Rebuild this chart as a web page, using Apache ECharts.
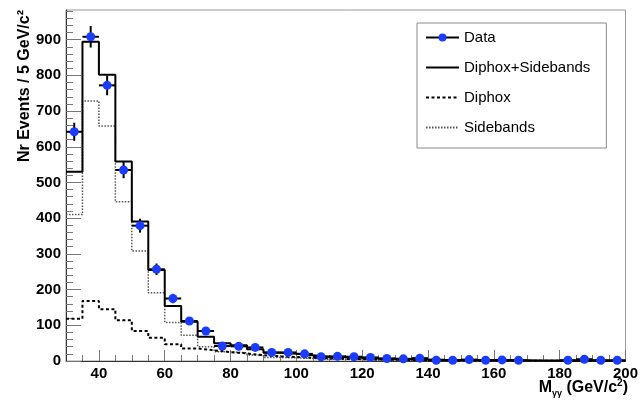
<!DOCTYPE html>
<html>
<head>
<meta charset="utf-8">
<script src="https://cdn.jsdelivr.net/npm/echarts@6/dist/echarts.min.js"></script>
<style>
html, body { margin: 0; padding: 0; background: #fff; }
#chart { width: 641px; height: 401px; }
</style>
</head>
<body>
<div id="chart"></div>
<script>
// Diphoton invariant mass spectrum, 5 GeV/c^2 bins from 30 to 200
const binEdges = [30, 35, 40, 45, 50, 55, 60, 65, 70, 75, 80, 85, 90, 95, 100, 105, 110, 115, 120,
  125, 130, 135, 140, 145, 150, 155, 160, 165, 170, 175, 180, 185, 190, 195, 200];
const binCenters = [32.5, 37.5, 42.5, 47.5, 52.5, 57.5, 62.5, 67.5, 72.5, 77.5, 82.5, 87.5, 92.5, 97.5,
  102.5, 107.5, 112.5, 117.5, 122.5, 127.5, 132.5, 137.5, 142.5, 147.5, 152.5, 157.5, 162.5, 167.5,
  172.5, 177.5, 182.5, 187.5, 192.5, 197.5];
const binHalfWidth = 2.5;

// Observed events per bin (empty bins are not drawn)
const dataCounts = [642, 908, 772, 535, 379, 257, 175, 112, 84, 42, 41, 38, 24, 24, 20, 12, 13, 12,
  10, 7, 6, 8, 2, 2, 4, 2, 3, 2, null, null, 2, 5, 2, 2];
// Statistical uncertainty on each observed count
const dataErrors = [25.3, 30.1, 27.8, 23.1, 19.5, 16.0, 13.2, 10.6, 9.2, 6.5, 6.4, 6.2, 4.9, 4.9, 4.5,
  3.5, 3.6, 3.5, 3.2, 2.6, 2.4, 2.8, 1.4, 1.4, 2.0, 1.4, 1.7, 1.4, null, null, 1.4, 2.2, 1.4, 1.4];

// Background templates
const totalBkg = [530, 894, 802, 559, 391, 255, 154, 110, 68, 50, 44, 33, 23, 20, 16, 12, 11, 9,
  7, 6.5, 5, 4.5, 3.5, 3, 2.5, 2.2, 2, 1.8, 1.6, 1.4, 1.2, 1.1, 1, 0.9];
const diphox = [118, 168, 145, 114, 84, 65, 47, 35, 30, 25, 21, 16, 13, 11, 9, 7, 6, 5,
  4, 3.5, 3, 2.5, 2, 1.8, 1.5, 1.3, 1.1, 1, 0.9, 0.8, 0.7, 0.6, 0.5, 0.5];
const sidebands = [410, 728, 658, 446, 308, 191, 108, 72, 40, 26, 23, 17, 10, 9, 7, 5, 5, 4,
  3, 3, 2, 2, 1.5, 1.2, 1, 0.9, 0.9, 0.8, 0.7, 0.6, 0.5, 0.5, 0.5, 0.4];

// Axis ticks
const xTickLabels = [40, 60, 80, 100, 120, 140, 160, 180, 200];
const xMinorTicks = [35, 45, 50, 55, 65, 70, 75, 85, 90, 95, 105, 110, 115, 125, 130, 135,
  145, 150, 155, 165, 170, 175, 185, 190, 195];
const yTickLabels = [0, 100, 200, 300, 400, 500, 600, 700, 800, 900];
const yMinorTicks = [20, 40, 60, 80, 120, 140, 160, 180, 220, 240, 260, 280, 320, 340, 360, 380,
  420, 440, 460, 480, 520, 540, 560, 580, 620, 640, 660, 680, 720, 740, 760, 780,
  820, 840, 860, 880, 920, 940, 960, 980];

const FONT = '"Liberation Sans", Arial, Helvetica, sans-serif';
const TICK = '#777';

// Histogram outline: one point per lower bin edge, plus the closing upper edge
function stepPoints(vals) {
  const pts = vals.map((v, i) => [binEdges[i], v]);
  pts.push([binEdges[vals.length], vals[vals.length - 1]]);
  return pts;
}

const chart = echarts.init(document.getElementById('chart'), null, { renderer: 'canvas' });

const xMain = {
  type: 'value', min: 30, max: 200, position: 'bottom',
  axisLine: { show: true, onZero: false, lineStyle: { color: '#333', width: 1 } },
  axisTick: { show: true, inside: true, length: 11, customValues: xTickLabels, lineStyle: { color: TICK } },
  axisLabel: { show: true, customValues: xTickLabels, margin: 5, fontSize: 15, fontWeight: 'bold', color: '#000', fontFamily: FONT },
  splitLine: { show: false }
};
const xMinor = {
  type: 'value', min: 30, max: 200, position: 'bottom',
  axisLine: { show: false },
  axisTick: { show: true, inside: true, length: 6, customValues: xMinorTicks, lineStyle: { color: TICK } },
  axisLabel: { show: false },
  splitLine: { show: false }
};
const yMain = {
  type: 'value', min: 0, max: 983, position: 'left',
  axisLine: { show: true, onZero: false, lineStyle: { color: '#333', width: 1 } },
  axisTick: { show: true, inside: true, length: 15, customValues: yTickLabels, lineStyle: { color: TICK } },
  axisLabel: { show: true, customValues: yTickLabels, margin: 5, fontSize: 15, fontWeight: 'bold', color: '#000', fontFamily: FONT },
  splitLine: { show: false }
};
const yMinor = {
  type: 'value', min: 0, max: 983, position: 'left',
  axisLine: { show: false },
  axisTick: { show: true, inside: true, length: 7, customValues: yMinorTicks, lineStyle: { color: TICK } },
  axisLabel: { show: false },
  splitLine: { show: false }
};

const errorBarData = binCenters
  .map((x, i) => [x, dataCounts[i], dataErrors[i]])
  .filter(d => d[1] != null);

// Histogram entries show only their line style in the legend
const lineOnly = { opacity: 0 };

chart.setOption({
  animation: false,
  backgroundColor: '#fff',
  grid: { left: 66, right: 13, top: 10, bottom: 40, show: true, borderColor: '#999', borderWidth: 1, backgroundColor: '#fff' },
  xAxis: [xMain, xMinor],
  yAxis: [yMain, yMinor],
  legend: {
    orient: 'vertical', left: 417, top: 23,
    padding: [7, 16, 13, 8],
    itemWidth: 33, itemHeight: 10, itemGap: 15,
    backgroundColor: '#fff', borderColor: '#888', borderWidth: 1,
    textStyle: { fontSize: 15, color: '#000', fontFamily: FONT, lineHeight: 15 },
    data: [
      { name: 'Data', lineStyle: { opacity: 1, color: '#000', width: 2 }, itemStyle: { color: '#1a3cff' } },
      { name: 'Diphox+Sidebands', itemStyle: lineOnly },
      { name: 'Diphox', itemStyle: lineOnly },
      { name: 'Sidebands', itemStyle: lineOnly }
    ]
  },
  series: [
    {
      name: 'Sidebands', type: 'line', step: 'end', symbol: 'none',
      data: stepPoints(sidebands),
      itemStyle: { color: '#555' },
      lineStyle: { color: '#555', width: 1.5, type: [1.5, 1.5] }, z: 2
    },
    {
      name: 'Diphox', type: 'line', step: 'end', symbol: 'none',
      data: stepPoints(diphox),
      itemStyle: { color: '#000' },
      lineStyle: { color: '#000', width: 2, type: [3, 2.5] }, z: 3
    },
    {
      name: 'Diphox+Sidebands', type: 'line', step: 'end', symbol: 'none',
      data: stepPoints(totalBkg),
      itemStyle: { color: '#000' },
      lineStyle: { color: '#000', width: 2 }, z: 4
    },
    {
      name: 'DataErrors', type: 'custom', z: 5,
      data: errorBarData,
      renderItem: function (params, api) {
        const x = api.value(0), y = api.value(1), e = api.value(2);
        const c = api.coord([x, y]);
        const top = api.coord([x, y + e]);
        const bot = api.coord([x, Math.max(0, y - e)]);
        const l = api.coord([x - binHalfWidth, y]);
        const r = api.coord([x + binHalfWidth, y]);
        return {
          type: 'group',
          children: [
            { type: 'line', shape: { x1: c[0], y1: top[1], x2: c[0], y2: bot[1] }, style: { stroke: '#000', lineWidth: 2 } },
            { type: 'line', shape: { x1: l[0], y1: c[1], x2: r[0], y2: c[1] }, style: { stroke: '#000', lineWidth: 2 } }
          ]
        };
      }
    },
    {
      name: 'Data', type: 'line', z: 6,
      data: binCenters.map((x, i) => [x, dataCounts[i]]),
      symbol: 'circle', symbolSize: 9, showSymbol: true, showAllSymbol: true,
      connectNulls: false,
      itemStyle: { color: '#1a3cff' },
      lineStyle: { opacity: 0, width: 2, color: '#000' }
    }
  ],
  graphic: [
    {
      type: 'text', x: 25, y: 10, rotation: Math.PI / 2,
      style: { text: 'Nr Events / 5 GeV/c²', font: 'bold 16px ' + FONT, fill: '#000', align: 'right', verticalAlign: 'middle' }
    },
    {
      type: 'text', x: 628, y: 388,
      style: {
        text: '{m|M}{s|γγ}{m| (GeV/c}{p|2}{m|)}',
        align: 'right', verticalAlign: 'middle',
        rich: {
          m: { fontSize: 16, fontWeight: 'bold', fontFamily: FONT, fill: '#000', lineHeight: 20, verticalAlign: 'middle' },
          s: { fontSize: 9, fontWeight: 'bold', fontFamily: FONT, fill: '#000', lineHeight: 20, verticalAlign: 'bottom' },
          p: { fontSize: 10, fontWeight: 'bold', fontFamily: FONT, fill: '#000', lineHeight: 20, verticalAlign: 'top' }
        }
      }
    }
  ]
});
</script>
</body>
</html>
